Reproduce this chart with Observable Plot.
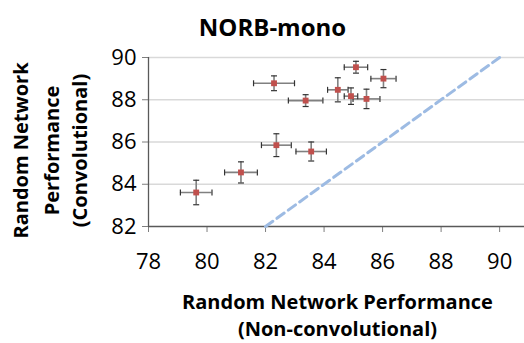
<!DOCTYPE html>
<html>
<head>
<meta charset="utf-8">
<script src="https://cdn.jsdelivr.net/npm/d3@7"></script>
<script src="https://cdn.jsdelivr.net/npm/@observablehq/plot@0.6"></script>
<style>
  html, body { margin: 0; padding: 0; background: #fff; }
  svg { display: block; }
</style>
</head>
<body>
<div id="chart"></div>
<script>
const xVals  = [79.63, 81.16, 82.37, 83.56, 82.29, 83.37, 84.47, 84.92, 85.45, 85.09, 86.03];
const yVals  = [83.61, 84.56, 85.85, 85.55, 88.78, 87.96, 88.47, 88.17, 88.04, 89.54, 89.00];
const xErr   = [0.54, 0.56, 0.51, 0.52, 0.70, 0.59, 0.35, 0.23, 0.46, 0.40, 0.43];
const yErr   = [0.58, 0.50, 0.54, 0.45, 0.35, 0.28, 0.57, 0.39, 0.46, 0.28, 0.43];
const diagX  = [82, 90];
const diagY  = [82, 90];
const xTicks = [78, 80, 82, 84, 86, 88, 90];
const yTicks = [82, 84, 86, 88, 90];
const gridTicks = [84, 86, 88, 90];

const data = xVals.map((x, i) => ({x, y: yVals[i], ex: xErr[i], ey: yErr[i]}));
const diag = diagX.map((x, i) => ({x, y: diagY[i]}));

const hCap = { draw(ctx, size) { const h = Math.sqrt(size / Math.PI); ctx.moveTo(0, -h); ctx.lineTo(0, h); } };
const vCap = { draw(ctx, size) { const h = Math.sqrt(size / Math.PI); ctx.moveTo(-h, 0); ctx.lineTo(h, 0); } };

const font = "'Open Sans', 'DejaVu Sans', sans-serif";
const yTitle = (t, dx) => Plot.text([t], { frameAnchor: "left", textAnchor: "middle", dx, dy: 8.5, rotate: -90, fontSize: 20, fontWeight: "bold", fill: "#000" });

const chart = Plot.plot({
  width: 524,
  height: 343,
  marginLeft: 148,
  marginRight: 0,
  marginTop: 57,
  marginBottom: 117,
  style: { fontFamily: font, background: "#fff", color: "#000" },
  x: { domain: [78, 90.85] },
  y: { domain: [82, 90] },
  marks: [
    Plot.gridY(gridTicks, { stroke: "#d9d9d9", strokeOpacity: 1, strokeWidth: 1.3 }),
    Plot.axisY(yTicks, { tickSize: 6, tickPadding: 6, fontSize: 22, stroke: "#7f7f7f", label: null, fill: "#000" }),
    Plot.axisX(xTicks, { tickSize: 6, tickPadding: 21, fontSize: 22, stroke: "#7f7f7f", label: null, fill: "#000" }),
    Plot.ruleX([78], { stroke: "#595959", strokeWidth: 1.3 }),
    Plot.ruleY([82], { stroke: "#595959", strokeWidth: 1.3 }),
    Plot.line(diag, { x: "x", y: "y", stroke: "#9dbbe3", strokeWidth: 3, strokeDasharray: "9,5" }),
    Plot.ruleY(data, { y: "y", x1: d => d.x - d.ex, x2: d => d.x + d.ex, stroke: "#808080", strokeWidth: 1.6 }),
    Plot.ruleX(data, { x: "x", y1: d => d.y - d.ey, y2: d => d.y + d.ey, stroke: "#808080", strokeWidth: 1.6 }),
    Plot.dot(data, { x: d => d.x - d.ex, y: "y", symbol: hCap, r: 3, stroke: "#333", strokeWidth: 1.2 }),
    Plot.dot(data, { x: d => d.x + d.ex, y: "y", symbol: hCap, r: 3, stroke: "#333", strokeWidth: 1.2 }),
    Plot.dot(data, { x: "x", y: d => d.y - d.ey, symbol: vCap, r: 3, stroke: "#333", strokeWidth: 1.2 }),
    Plot.dot(data, { x: "x", y: d => d.y + d.ey, symbol: vCap, r: 3, stroke: "#333", strokeWidth: 1.2 }),
    Plot.dot(data, { x: "x", y: "y", symbol: "square", r: 3.3, fill: "#c0504d", stroke: null }),
    Plot.text(["NORB-mono"], { frameAnchor: "top", dx: -64, dy: -39, fontSize: 24, fontWeight: "bold", fill: "#000" }),
    Plot.text(["Random Network Performance"], { frameAnchor: "bottom", dx: 1, dy: 82, fontSize: 20, fontWeight: "bold", fill: "#000" }),
    Plot.text(["(Non-convolutional)"], { frameAnchor: "bottom", dx: 1, dy: 109, fontSize: 20, fontWeight: "bold", fill: "#000" }),
    yTitle("Random Network", -127),
    yTitle("Performance", -96),
    yTitle("(Convolutional)", -68)
  ]
});
document.getElementById("chart").appendChild(chart);
</script>
</body>
</html>
